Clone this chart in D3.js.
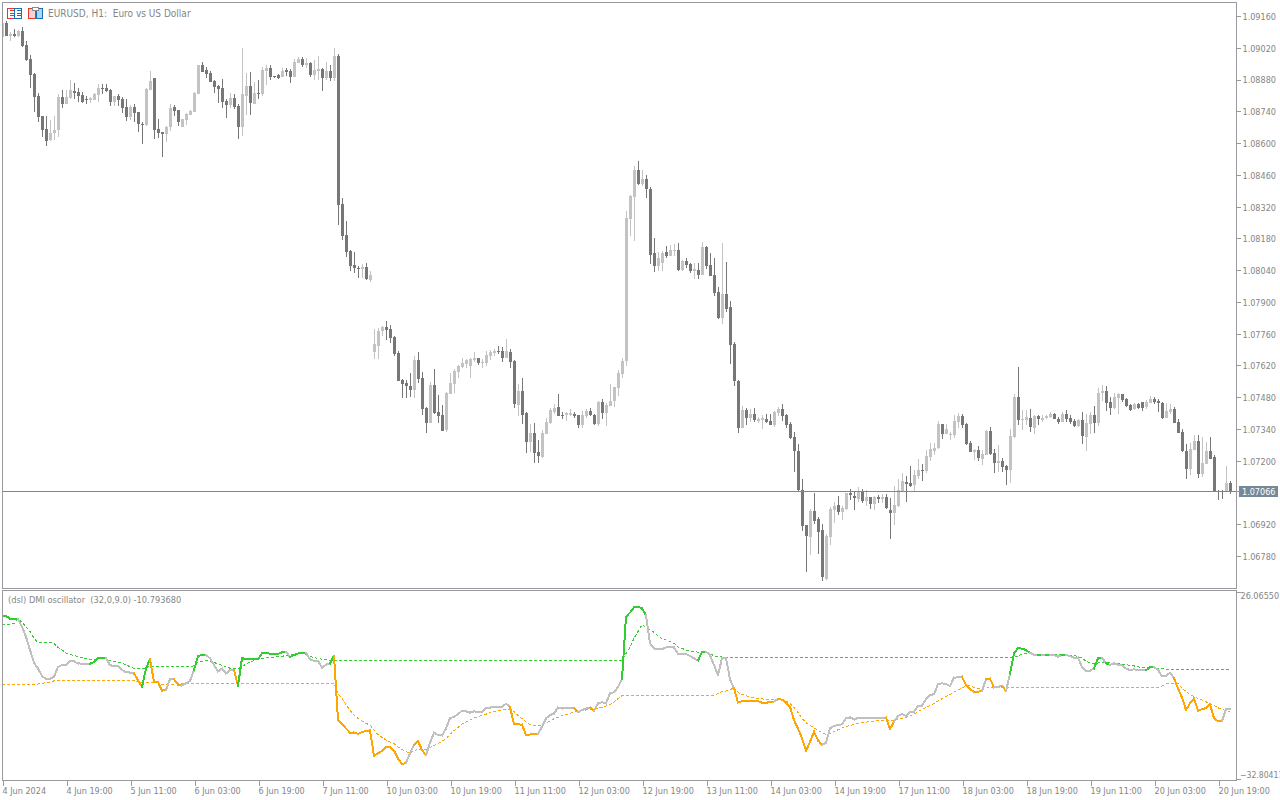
<!DOCTYPE html>
<html>
<head>
<meta charset="utf-8">
<title>EURUSD H1</title>
<script src="https://cdnjs.cloudflare.com/ajax/libs/d3/7.8.5/d3.min.js"></script>
<style>
  html, body { margin: 0; padding: 0; background: #fff; overflow: hidden; }
  svg { display: block; }
  text { font-family: "DejaVu Sans Condensed", "DejaVu Sans", sans-serif; font-stretch: condensed; font-size: 9px; fill: #858585; white-space: pre; }
  .axis path { display: none; }
  .axis line { stroke: #9a9a9a; shape-rendering: crispEdges; }
  .axis text { font-family: "DejaVu Sans Condensed", "DejaVu Sans", sans-serif; font-stretch: condensed; font-size: 9px; fill: #858585; }
</style>
</head>
<body>
<div id="viz"></div>
<script>
// every row holds 10 bars, H1 candles from 4 Jun 2024 to 20 Jun 2024
const opens = [
  1.09068,1.09130,1.09072,1.09081,1.09072,1.09094,1.09033,1.08971,1.08905,1.08808,
  1.08719,1.08662,1.08614,1.08644,1.08658,1.08803,1.08772,1.08799,1.08830,1.08825,
  1.08812,1.08794,1.08790,1.08790,1.08812,1.08843,1.08843,1.08834,1.08781,1.08808,
  1.08794,1.08759,1.08715,1.08759,1.08737,1.08684,1.08680,1.08834,1.08887,1.08662,
  1.08649,1.08640,1.08671,1.08759,1.08746,1.08671,1.08702,1.08724,1.08737,1.08816,
  1.08944,1.08922,1.08909,1.08874,1.08852,1.08843,1.08786,1.08768,1.08799,1.08764,
  1.08671,1.08808,1.08852,1.08772,1.08821,1.08816,1.08918,1.08931,1.08896,1.08900,
  1.08891,1.08922,1.08918,1.08891,1.08953,1.08971,1.08944,1.08953,1.08900,1.08918,
  1.08927,1.08887,1.08918,1.08887,1.08984,1.08331,1.08195,1.08124,1.08062,1.08049,
  1.08045,1.08053,1.07996,1.07679,1.07705,1.07771,1.07789,1.07780,1.07745,1.07674,
  1.07555,1.07542,1.07529,1.07511,1.07643,1.07564,1.07432,1.07366,1.07533,1.07414,
  1.07401,1.07335,1.07493,1.07538,1.07590,1.07612,1.07626,1.07617,1.07643,1.07652,
  1.07630,1.07630,1.07661,1.07674,1.07683,1.07683,1.07652,1.07679,1.07639,1.07445,
  1.07507,1.07410,1.07282,1.07322,1.07238,1.07216,1.07317,1.07366,1.07414,1.07436,
  1.07401,1.07401,1.07401,1.07405,1.07401,1.07357,1.07396,1.07419,1.07401,1.07361,
  1.07458,1.07410,1.07441,1.07463,1.07520,1.07582,1.07639,1.08265,1.08362,1.08481,
  1.08420,1.08442,1.08397,1.08115,1.08058,1.08071,1.08120,1.08102,1.08124,1.08129,
  1.08040,1.08080,1.08067,1.08036,1.08040,1.08018,1.08142,1.08062,1.08018,1.07943,
  1.07829,1.07934,1.07877,1.07714,1.07551,1.07343,1.07423,1.07388,1.07405,1.07374,
  1.07379,1.07383,1.07374,1.07357,1.07410,1.07427,1.07401,1.07361,1.07304,1.07242,
  1.07070,1.06916,1.06863,1.06978,1.06942,1.06894,1.06678,1.06863,1.06982,1.07004,
  1.06973,1.06986,1.07057,1.07044,1.07030,1.07061,1.07022,1.07039,1.07008,1.07039,
  1.07030,1.07039,1.06982,1.06969,1.07000,1.07066,1.07105,1.07101,1.07092,1.07132,
  1.07158,1.07154,1.07216,1.07242,1.07255,1.07361,1.07317,1.07313,1.07313,1.07370,
  1.07396,1.07361,1.07277,1.07238,1.07247,1.07207,1.07224,1.07330,1.07233,1.07189,
  1.07198,1.07176,1.07158,1.07304,1.07480,1.07379,1.07379,1.07388,1.07343,1.07396,
  1.07379,1.07388,1.07392,1.07405,1.07383,1.07370,1.07405,1.07388,1.07374,1.07352,
  1.07379,1.07304,1.07361,1.07401,1.07366,1.07498,1.07507,1.07458,1.07432,1.07476,
  1.07493,1.07471,1.07445,1.07427,1.07449,1.07458,1.07436,1.07454,1.07471,1.07463,
  1.07454,1.07388,1.07414,1.07427,1.07370,1.07326,1.07242,1.07163,1.07247,1.07286,
  1.07141,1.07185,1.07242,1.07216,1.07066,1.07066,1.07066,1.07101
];
const highs = [
  1.09134,1.09138,1.09090,1.09103,1.09099,1.09112,1.09050,1.08988,1.08909,1.08821,
  1.08719,1.08719,1.08702,1.08719,1.08816,1.08834,1.08834,1.08878,1.08865,1.08843,
  1.08825,1.08808,1.08803,1.08821,1.08861,1.08861,1.08861,1.08839,1.08808,1.08816,
  1.08803,1.08794,1.08768,1.08772,1.08737,1.08693,1.08843,1.08918,1.08887,1.08706,
  1.08649,1.08675,1.08772,1.08768,1.08746,1.08706,1.08733,1.08746,1.08825,1.08944,
  1.08958,1.08936,1.08918,1.08878,1.08856,1.08883,1.08794,1.08821,1.08816,1.08772,
  1.09019,1.08909,1.08913,1.08869,1.08878,1.08936,1.08944,1.08944,1.08896,1.08905,
  1.08931,1.08931,1.08927,1.08971,1.08980,1.08980,1.08975,1.08958,1.08966,1.08984,
  1.08931,1.08958,1.08944,1.09019,1.08993,1.08358,1.08256,1.08129,1.08120,1.08058,
  1.08067,1.08071,1.08036,1.07780,1.07785,1.07793,1.07815,1.07798,1.07749,1.07683,
  1.07560,1.07555,1.07586,1.07661,1.07679,1.07590,1.07436,1.07546,1.07604,1.07489,
  1.07445,1.07502,1.07586,1.07604,1.07621,1.07652,1.07648,1.07652,1.07679,1.07652,
  1.07648,1.07683,1.07688,1.07692,1.07705,1.07701,1.07736,1.07692,1.07643,1.07538,
  1.07564,1.07414,1.07361,1.07366,1.07291,1.07335,1.07388,1.07432,1.07449,1.07493,
  1.07414,1.07414,1.07427,1.07414,1.07401,1.07419,1.07427,1.07432,1.07405,1.07463,
  1.07471,1.07454,1.07538,1.07524,1.07599,1.07652,1.08301,1.08371,1.08499,1.08521,
  1.08481,1.08459,1.08406,1.08181,1.08120,1.08124,1.08146,1.08151,1.08155,1.08159,
  1.08085,1.08093,1.08071,1.08071,1.08071,1.08164,1.08146,1.08115,1.08093,1.07965,
  1.08159,1.08076,1.07904,1.07723,1.07555,1.07441,1.07432,1.07427,1.07432,1.07392,
  1.07401,1.07405,1.07405,1.07419,1.07436,1.07449,1.07405,1.07370,1.07326,1.07273,
  1.07119,1.06916,1.06986,1.07057,1.06951,1.06920,1.06876,1.06995,1.07017,1.07044,
  1.07000,1.07057,1.07075,1.07066,1.07083,1.07075,1.07070,1.07039,1.07044,1.07048,
  1.07053,1.07053,1.07035,1.07088,1.07119,1.07145,1.07132,1.07176,1.07158,1.07207,
  1.07185,1.07247,1.07277,1.07277,1.07374,1.07361,1.07361,1.07326,1.07401,1.07410,
  1.07405,1.07366,1.07286,1.07251,1.07264,1.07247,1.07335,1.07348,1.07251,1.07269,
  1.07211,1.07180,1.07339,1.07493,1.07612,1.07423,1.07423,1.07427,1.07401,1.07401,
  1.07401,1.07401,1.07414,1.07410,1.07392,1.07414,1.07423,1.07401,1.07383,1.07383,
  1.07414,1.07405,1.07414,1.07441,1.07520,1.07533,1.07529,1.07480,1.07498,1.07498,
  1.07493,1.07476,1.07449,1.07454,1.07454,1.07458,1.07467,1.07485,1.07480,1.07471,
  1.07458,1.07454,1.07449,1.07436,1.07383,1.07339,1.07273,1.07277,1.07313,1.07313,
  1.07304,1.07282,1.07304,1.07224,1.07070,1.07070,1.07176,1.07110
];
const lows = [
  1.09068,1.09072,1.09050,1.09068,1.09068,1.09024,1.08962,1.08843,1.08737,1.08693,
  1.08627,1.08587,1.08609,1.08614,1.08627,1.08755,1.08772,1.08794,1.08794,1.08781,
  1.08777,1.08772,1.08777,1.08790,1.08781,1.08816,1.08825,1.08764,1.08764,1.08764,
  1.08733,1.08697,1.08702,1.08693,1.08649,1.08596,1.08675,1.08834,1.08618,1.08622,
  1.08539,1.08605,1.08653,1.08719,1.08675,1.08671,1.08680,1.08724,1.08737,1.08816,
  1.08913,1.08887,1.08869,1.08821,1.08777,1.08755,1.08711,1.08755,1.08750,1.08618,
  1.08631,1.08724,1.08724,1.08772,1.08794,1.08808,1.08856,1.08878,1.08887,1.08883,
  1.08891,1.08896,1.08865,1.08891,1.08953,1.08936,1.08931,1.08891,1.08878,1.08878,
  1.08830,1.08878,1.08874,1.08874,1.08239,1.08173,1.08098,1.08036,1.08027,1.08005,
  1.08005,1.07996,1.07987,1.07648,1.07648,1.07749,1.07732,1.07718,1.07661,1.07551,
  1.07476,1.07476,1.07480,1.07476,1.07542,1.07401,1.07322,1.07366,1.07405,1.07366,
  1.07330,1.07326,1.07493,1.07498,1.07564,1.07608,1.07608,1.07564,1.07635,1.07621,
  1.07608,1.07617,1.07643,1.07661,1.07670,1.07635,1.07652,1.07608,1.07432,1.07396,
  1.07361,1.07233,1.07238,1.07189,1.07189,1.07211,1.07317,1.07361,1.07405,1.07396,
  1.07383,1.07374,1.07396,1.07388,1.07343,1.07343,1.07388,1.07396,1.07357,1.07352,
  1.07383,1.07352,1.07441,1.07436,1.07485,1.07564,1.07617,1.08190,1.08168,1.08415,
  1.08411,1.08358,1.08067,1.08031,1.08036,1.08036,1.08093,1.08102,1.08102,1.08036,
  1.08036,1.08049,1.08027,1.08001,1.08001,1.08018,1.08045,1.08014,1.07926,1.07824,
  1.07802,1.07855,1.07626,1.07529,1.07322,1.07343,1.07357,1.07370,1.07370,1.07366,
  1.07339,1.07366,1.07357,1.07348,1.07396,1.07374,1.07343,1.07295,1.07149,1.07061,
  1.06889,1.06708,1.06783,1.06920,1.06788,1.06669,1.06673,1.06827,1.06925,1.06960,
  1.06938,1.06982,1.07026,1.06982,1.07017,1.07013,1.07000,1.06986,1.06982,1.07013,
  1.07013,1.06986,1.06854,1.06916,1.06995,1.07066,1.07017,1.07083,1.07066,1.07119,
  1.07110,1.07145,1.07198,1.07224,1.07251,1.07295,1.07317,1.07291,1.07299,1.07343,
  1.07343,1.07269,1.07238,1.07202,1.07198,1.07180,1.07224,1.07224,1.07145,1.07149,
  1.07149,1.07092,1.07101,1.07299,1.07357,1.07335,1.07357,1.07326,1.07317,1.07357,
  1.07370,1.07383,1.07388,1.07383,1.07361,1.07370,1.07370,1.07361,1.07348,1.07348,
  1.07273,1.07242,1.07317,1.07322,1.07352,1.07463,1.07419,1.07401,1.07427,1.07405,
  1.07458,1.07436,1.07419,1.07423,1.07427,1.07419,1.07427,1.07454,1.07449,1.07414,
  1.07383,1.07388,1.07405,1.07366,1.07322,1.07238,1.07119,1.07136,1.07247,1.07123,
  1.07127,1.07185,1.07207,1.07061,1.07026,1.07030,1.07066,1.07053
];
const closes = [
  1.09130,1.09072,1.09081,1.09072,1.09094,1.09028,1.08966,1.08900,1.08803,1.08715,
  1.08658,1.08609,1.08644,1.08658,1.08803,1.08772,1.08803,1.08834,1.08821,1.08808,
  1.08781,1.08790,1.08799,1.08816,1.08843,1.08839,1.08830,1.08781,1.08808,1.08790,
  1.08755,1.08715,1.08759,1.08733,1.08684,1.08680,1.08839,1.08874,1.08658,1.08644,
  1.08640,1.08671,1.08755,1.08742,1.08693,1.08706,1.08728,1.08742,1.08821,1.08944,
  1.08913,1.08905,1.08869,1.08847,1.08839,1.08781,1.08768,1.08799,1.08759,1.08671,
  1.08816,1.08852,1.08777,1.08821,1.08816,1.08922,1.08931,1.08891,1.08891,1.08887,
  1.08918,1.08913,1.08891,1.08958,1.08971,1.08944,1.08953,1.08900,1.08922,1.08927,
  1.08887,1.08918,1.08887,1.08984,1.08327,1.08190,1.08120,1.08058,1.08049,1.08045,
  1.08053,1.08001,1.08018,1.07714,1.07771,1.07789,1.07776,1.07740,1.07670,1.07551,
  1.07538,1.07529,1.07511,1.07643,1.07560,1.07427,1.07366,1.07533,1.07410,1.07396,
  1.07330,1.07498,1.07542,1.07595,1.07617,1.07630,1.07643,1.07648,1.07652,1.07630,
  1.07635,1.07665,1.07679,1.07683,1.07679,1.07652,1.07683,1.07635,1.07449,1.07507,
  1.07401,1.07282,1.07322,1.07233,1.07220,1.07322,1.07370,1.07423,1.07432,1.07396,
  1.07396,1.07410,1.07410,1.07396,1.07357,1.07401,1.07419,1.07401,1.07361,1.07458,
  1.07410,1.07445,1.07463,1.07524,1.07586,1.07639,1.08270,1.08367,1.08481,1.08420,
  1.08442,1.08397,1.08106,1.08058,1.08093,1.08115,1.08102,1.08129,1.08129,1.08040,
  1.08080,1.08062,1.08036,1.08045,1.08018,1.08142,1.08058,1.08014,1.07939,1.07829,
  1.07934,1.07868,1.07710,1.07551,1.07343,1.07423,1.07388,1.07405,1.07379,1.07383,
  1.07388,1.07370,1.07357,1.07414,1.07427,1.07396,1.07357,1.07299,1.07242,1.07070,
  1.06911,1.06867,1.06978,1.06933,1.06885,1.06687,1.06867,1.06986,1.07000,1.06973,
  1.06991,1.07057,1.07048,1.07035,1.07061,1.07022,1.07039,1.07008,1.07039,1.07030,
  1.07039,1.06991,1.06969,1.07004,1.07070,1.07110,1.07097,1.07088,1.07136,1.07158,
  1.07154,1.07220,1.07251,1.07255,1.07361,1.07317,1.07339,1.07317,1.07374,1.07396,
  1.07357,1.07273,1.07238,1.07247,1.07211,1.07229,1.07330,1.07229,1.07189,1.07198,
  1.07172,1.07158,1.07308,1.07480,1.07379,1.07383,1.07392,1.07348,1.07396,1.07383,
  1.07388,1.07396,1.07405,1.07383,1.07370,1.07405,1.07383,1.07370,1.07352,1.07379,
  1.07308,1.07366,1.07401,1.07366,1.07498,1.07507,1.07454,1.07432,1.07480,1.07493,
  1.07467,1.07441,1.07423,1.07449,1.07432,1.07432,1.07458,1.07471,1.07458,1.07454,
  1.07388,1.07419,1.07427,1.07366,1.07322,1.07242,1.07163,1.07251,1.07286,1.07141,
  1.07189,1.07242,1.07207,1.07066,1.07061,1.07061,1.07101,1.07066
];

// dsl DMI oscillator, main line per bar
const oscillator = [
  18.6,18.5,17.7,17.6,17.6,15.1,12.0,7.8,3.8,2.0,
  -0.4,-1.3,-1.3,-0.6,2.5,3.1,3.2,4.3,4.2,3.6,
  3.5,3.5,3.5,4.0,5.3,5.4,5.3,3.0,2.8,2.8,
  1.5,0.8,0.7,0.4,-1.7,-3.8,2.0,4.9,-2.2,-2.3,
  -5.0,-4.8,-1.4,-1.4,-3.1,-3.3,-2.7,-1.9,1.5,5.9,
  6.2,6.3,5.2,3.1,1.0,2.0,0.4,1.5,1.6,-3.5,
  5.2,5.0,5.0,5.0,5.0,6.7,6.9,6.6,6.6,6.6,
  7.1,7.3,5.6,6.2,6.7,6.9,6.9,4.9,4.4,4.4,
  2.2,3.2,3.6,6.0,-14.3,-15.5,-16.9,-18.2,-18.2,-18.6,
  -18.0,-17.7,-17.5,-25.5,-24.7,-24.0,-22.7,-22.7,-23.9,-26.3,
  -28.1,-27.7,-24.7,-22.1,-20.8,-23.7,-25.3,-21.4,-18.2,-19.0,
  -19.1,-16.9,-13.7,-13.2,-12.4,-11.3,-11.5,-11.9,-11.5,-11.7,
  -11.7,-10.3,-10.3,-10.1,-10.1,-10.1,-9.1,-10.1,-15.6,-15.6,
  -15.7,-19.0,-18.8,-18.6,-18.6,-16.4,-13.7,-12.7,-12.2,-10.3,
  -10.6,-10.6,-10.5,-10.4,-11.8,-11.1,-10.6,-10.3,-11.4,-9.0,
  -8.6,-9.0,-5.8,-5.5,-3.8,-1.4,18.3,19.6,21.2,21.4,
  20.9,18.8,9.9,8.3,8.1,8.1,8.6,8.8,8.6,6.6,
  6.6,6.6,5.9,5.2,4.5,7.2,7.3,6.2,3.1,-0.1,
  5.2,5.2,-1.4,-4.3,-8.7,-8.3,-8.2,-8.2,-8.2,-8.3,
  -8.8,-8.8,-8.6,-8.4,-7.7,-7.8,-8.8,-10.1,-14.3,-16.9,
  -20.0,-23.9,-21.1,-17.9,-20.6,-22.1,-21.3,-16.9,-16.1,-15.8,
  -15.6,-13.7,-13.4,-14.0,-13.6,-13.5,-13.5,-13.5,-13.5,-13.5,
  -13.5,-13.5,-17.1,-14.8,-13.0,-12.3,-13.0,-11.6,-11.6,-9.8,
  -9.7,-7.7,-6.4,-6.1,-2.9,-2.7,-2.9,-3.5,-0.9,-0.8,
  -0.6,-3.2,-4.6,-5.3,-5.3,-5.1,-1.4,-1.2,-4.0,-3.8,
  -3.5,-5.1,0.4,6.7,8.5,8.2,7.8,6.9,6.3,6.2,
  6.2,6.2,6.2,6.2,5.7,6.2,6.2,5.9,5.4,5.4,
  2.5,1.3,1.3,2.0,5.2,5.4,3.6,3.1,3.6,3.2,
  2.9,2.0,1.5,1.7,1.5,1.5,1.4,2.4,2.4,1.5,
  -0.4,-0.4,0.7,-1.1,-4.3,-7.1,-11.1,-9.0,-7.4,-11.3,
  -10.8,-10.5,-9.2,-13.7,-14.6,-14.6,-10.8,-10.79
];
const upLevel = [
  15.7,15.8,15.9,16.2,17.6,16.6,15.1,13.6,11.5,10.2,
  10.2,10.2,10.2,9.9,8.6,7.8,6.9,6.4,6.0,5.8,
  5.4,5.1,4.8,4.7,5.2,5.3,5.2,4.4,4.1,4.0,
  3.6,3.2,2.5,2.0,1.9,1.8,2.2,2.7,2.7,2.7,
  2.7,2.7,2.7,2.7,2.7,2.7,2.7,2.7,2.8,3.9,
  4.3,4.5,4.4,3.9,3.4,3.0,2.4,2.1,1.9,1.9,
  2.5,3.4,4.0,4.4,4.9,5.1,5.3,5.5,5.6,5.7,
  5.8,6.1,6.2,6.5,6.8,6.9,6.4,5.8,5.4,5.2,
  4.9,4.7,4.5,4.4,4.4,4.4,4.4,4.4,4.4,4.4,
  4.4,4.4,4.4,4.4,4.4,4.4,4.4,4.4,4.4,4.4,
  4.4,4.4,4.4,4.4,4.4,4.4,4.4,4.4,4.4,4.4,
  4.4,4.4,4.4,4.4,4.4,4.4,4.4,4.4,4.4,4.4,
  4.4,4.4,4.4,4.4,4.4,4.4,4.4,4.4,4.4,4.4,
  4.4,4.4,4.4,4.4,4.4,4.4,4.4,4.4,4.4,4.4,
  4.4,4.4,4.4,4.4,4.4,4.4,4.4,4.4,4.4,4.4,
  4.4,4.4,4.4,4.4,4.4,4.4,6.7,8.6,11.5,13.6,
  15.7,14.9,14.1,13.4,12.3,11.4,11.0,10.5,9.9,8.8,
  8.3,7.8,7.5,7.3,7.1,7.2,7.2,6.6,6.0,5.7,
  5.6,5.5,5.5,5.5,5.5,5.5,5.5,5.5,5.5,5.5,
  5.5,5.5,5.5,5.5,5.5,5.5,5.5,5.5,5.5,5.5,
  5.5,5.5,5.5,5.5,5.5,5.5,5.5,5.5,5.5,5.5,
  5.5,5.5,5.5,5.5,5.5,5.5,5.5,5.5,5.5,5.5,
  5.5,5.5,5.5,5.5,5.5,5.5,5.5,5.5,5.5,5.5,
  5.5,5.5,5.5,5.5,5.5,5.5,5.5,5.5,5.5,5.5,
  5.5,5.5,5.5,5.5,5.5,5.5,5.5,5.5,5.5,5.5,
  5.5,5.5,5.3,5.5,5.9,6.5,6.7,6.6,6.4,6.4,
  6.4,6.4,6.4,6.4,6.4,6.4,6.4,6.2,6.0,5.8,
  5.2,4.3,3.7,3.6,3.7,3.8,3.8,3.7,3.6,3.5,
  3.4,3.2,3.0,2.8,2.5,2.3,2.1,2.2,2.3,2.1,
  1.9,1.8,1.7,1.7,1.7,1.7,1.7,1.7,1.7,1.7,
  1.7,1.7,1.7,1.7,1.7,1.7,1.7,1.7
];
const downLevel = [
  -3.1,-3.1,-3.1,-3.1,-3.1,-3.1,-3.1,-3.1,-3.1,-2.9,
  -2.7,-2.5,-2.3,-1.9,-1.8,-1.8,-1.8,-1.8,-1.8,-1.8,
  -1.8,-1.8,-1.8,-1.8,-1.8,-1.8,-1.8,-1.8,-1.8,-1.8,
  -1.8,-1.8,-1.8,-1.9,-2.1,-2.4,-2.4,-2.3,-2.3,-2.5,
  -3.1,-3.2,-3.1,-2.9,-2.8,-2.7,-2.7,-2.7,-2.7,-2.7,
  -2.7,-2.7,-2.7,-2.7,-2.7,-2.7,-2.7,-2.7,-2.7,-2.7,
  -2.7,-2.7,-2.7,-2.7,-2.7,-2.7,-2.7,-2.7,-2.7,-2.7,
  -2.7,-2.7,-2.7,-2.7,-2.7,-2.7,-2.7,-2.7,-2.7,-2.7,
  -2.7,-2.7,-2.7,-2.7,-5.9,-7.4,-9.5,-11.1,-12.7,-13.7,
  -14.6,-15.3,-15.8,-17.4,-18.8,-19.7,-20.5,-21.1,-21.7,-22.7,
  -23.5,-24.2,-24.7,-23.9,-23.5,-23.7,-23.5,-22.9,-22.2,-21.6,
  -20.9,-20.2,-18.7,-17.6,-16.6,-15.5,-14.9,-14.3,-13.6,-13.2,
  -12.8,-12.4,-11.9,-11.6,-11.3,-11.0,-10.9,-11.0,-11.5,-12.8,
  -13.8,-14.9,-15.7,-16.1,-16.0,-15.8,-15.1,-14.6,-13.8,-13.4,
  -12.9,-12.6,-12.2,-11.7,-11.5,-11.3,-11.1,-10.9,-10.8,-10.5,
  -10.2,-9.8,-9.4,-8.5,-7.5,-6.6,-6.5,-6.5,-6.5,-6.5,
  -6.5,-6.5,-6.5,-6.5,-6.5,-6.5,-6.5,-6.5,-6.5,-6.5,
  -6.5,-6.5,-6.5,-6.5,-6.5,-6.5,-6.5,-6.5,-6.5,-5.9,
  -5.2,-5.1,-4.8,-4.0,-5.5,-6.2,-6.6,-7.0,-7.2,-7.4,
  -7.6,-7.7,-7.8,-7.9,-7.9,-8.1,-8.3,-9.0,-10.3,-11.9,
  -13.7,-15.1,-15.9,-16.8,-17.4,-18.3,-18.7,-18.5,-17.9,-17.3,
  -16.7,-16.2,-16.0,-15.6,-15.4,-15.1,-14.9,-14.7,-14.6,-14.5,
  -14.4,-14.3,-14.5,-14.5,-14.0,-13.7,-13.4,-12.9,-12.4,-11.6,
  -10.9,-10.3,-9.7,-9.0,-8.3,-7.5,-6.9,-6.2,-5.4,-4.8,
  -4.2,-3.5,-3.5,-4.0,-4.3,-4.6,-4.3,-3.9,-3.9,-4.0,
  -4.0,-4.0,-4.0,-4.0,-4.0,-4.0,-4.0,-4.0,-4.0,-4.0,
  -4.0,-4.0,-4.0,-4.0,-4.0,-4.0,-4.0,-4.0,-4.0,-4.0,
  -4.0,-4.0,-4.0,-4.0,-4.0,-4.0,-4.0,-4.0,-4.0,-4.0,
  -4.0,-4.0,-4.0,-4.0,-4.0,-4.0,-4.0,-4.0,-4.0,-4.0,
  -3.5,-2.9,-2.7,-2.7,-2.8,-4.1,-5.3,-6.2,-6.9,-7.4,
  -7.9,-8.5,-9.0,-9.6,-10.4,-10.9,-11.3,-11.7
];
// colour buffer of the main line: 0 neutral, 1 up, 2 down
const lineState = [
  1,1,1,1,1,0,0,0,0,0,
  0,0,0,0,0,0,0,0,0,0,
  0,0,0,1,1,1,1,0,0,0,
  0,0,0,0,2,2,1,1,2,2,
  2,2,0,0,2,2,0,0,0,1,
  1,1,0,0,0,0,0,0,0,2,
  1,1,1,1,1,1,1,1,1,1,
  1,1,0,1,1,1,1,0,0,0,
  0,0,0,1,2,2,2,2,2,2,
  2,2,2,2,2,2,2,2,2,2,
  2,2,0,0,2,2,2,0,0,0,
  0,0,0,0,0,0,0,0,0,0,
  0,0,0,0,0,0,0,0,2,2,
  2,2,2,2,2,0,0,0,0,0,
  0,0,0,0,2,0,0,0,2,0,
  0,0,0,0,0,0,1,1,1,1,
  1,1,0,0,0,0,0,0,0,0,
  0,0,0,0,0,1,1,0,0,0,
  0,0,0,0,2,2,2,2,2,2,
  2,2,2,2,0,2,2,2,2,2,
  2,2,2,2,2,2,0,0,0,0,
  0,0,0,0,0,0,0,0,0,0,
  0,0,2,2,0,0,0,0,0,0,
  0,0,0,0,0,0,0,0,0,0,
  0,2,2,2,2,2,0,2,2,0,
  0,2,0,1,1,1,1,1,0,0,
  1,0,1,0,0,0,1,0,0,0,
  0,0,0,0,1,1,0,1,0,0,
  0,0,0,0,0,0,0,1,1,0,
  0,0,0,0,2,2,2,2,2,2,
  2,2,2,2,2,2,0,0
];

const priceTicks = [1.0916, 1.0902, 1.0888, 1.0874, 1.086, 1.0846, 1.0832, 1.0818, 1.0804, 1.079,
  1.0776, 1.0762, 1.0748, 1.0734, 1.072, 1.0692, 1.0678];
const lastPrice = 1.07066;
const oscTop = 26.0655;
const oscBottom = -32.80411;
const timeTicks = d3.range(0, 320, 16);
const timeLabels = ["4 Jun 2024", "4 Jun 19:00", "5 Jun 11:00", "6 Jun 03:00", "6 Jun 19:00", "7 Jun 11:00",
  "10 Jun 03:00", "10 Jun 19:00", "11 Jun 11:00", "12 Jun 03:00", "12 Jun 19:00", "13 Jun 11:00",
  "14 Jun 03:00", "14 Jun 19:00", "17 Jun 11:00", "18 Jun 03:00", "18 Jun 19:00", "19 Jun 11:00",
  "20 Jun 03:00", "20 Jun 19:00"];

const title = "EURUSD, H1:  Euro vs US Dollar";
const oscTitle = "(dsl) DMI oscillator  (32,0,9.0) -10.793680";

const dimensions = { width: 1280, height: 800, left: 2, right: 1236, mainTop: 2, mainBottom: 588, oscTop: 590, oscBottom: 780 };

const frameColor = "#9a9a9e";
const darkCandle = "#777777";
const lightCandle = "#c3c3c3";
const stateColors = ["#c0c0c0", "#32cd32", "#ffa500"];

const svg = d3.select("#viz").append("svg")
    .attr("width", dimensions.width)
    .attr("height", dimensions.height);

// SCALES
const n = closes.length;
const x = d3.scaleLinear().domain([0, 307]).range([2, 1230]);
const yPrice = d3.scaleLinear().domain([1.0916, 1.0678]).range([16, 556]);
const yOsc = d3.scaleLinear().domain([oscTop, oscBottom]).range([592, 779]);

const defs = svg.append("defs");
defs.append("clipPath").attr("id", "clipMain").append("rect")
    .attr("x", dimensions.left + 1).attr("y", dimensions.mainTop + 1)
    .attr("width", dimensions.right - dimensions.left - 1)
    .attr("height", dimensions.mainBottom - dimensions.mainTop - 1);
defs.append("clipPath").attr("id", "clipOsc").append("rect")
    .attr("x", dimensions.left + 1).attr("y", dimensions.oscTop + 1)
    .attr("width", dimensions.right - dimensions.left - 1)
    .attr("height", dimensions.oscBottom - dimensions.oscTop - 1);

// CANDLES
const candles = svg.append("g").attr("clip-path", "url(#clipMain)").attr("shape-rendering", "crispEdges");
const candleColor = i => closes[i] >= opens[i] ? lightCandle : darkCandle;

candles.selectAll(".wick").data(d3.range(n)).join("rect")
    .attr("class", "wick")
    .attr("x", i => x(i))
    .attr("width", 1)
    .attr("y", i => Math.round(yPrice(highs[i])))
    .attr("height", i => Math.max(1, Math.round(yPrice(lows[i])) - Math.round(yPrice(highs[i]))))
    .attr("fill", candleColor);

candles.selectAll(".body").data(d3.range(n)).join("rect")
    .attr("class", "body")
    .attr("x", i => x(i) - 1)
    .attr("width", 3)
    .attr("y", i => Math.round(yPrice(Math.max(opens[i], closes[i]))))
    .attr("height", i => Math.max(1, Math.round(yPrice(Math.min(opens[i], closes[i]))) - Math.round(yPrice(Math.max(opens[i], closes[i])))))
    .attr("fill", candleColor);

// last price line
svg.append("rect")
    .attr("x", dimensions.left).attr("y", Math.round(yPrice(lastPrice)))
    .attr("width", dimensions.right - dimensions.left).attr("height", 1)
    .attr("fill", "#778899");

// OSCILLATOR
const osc = svg.append("g").attr("clip-path", "url(#clipOsc)").attr("shape-rendering", "crispEdges");
const oscLine = d3.line().x(i => x(i));

osc.append("path")
    .attr("d", oscLine.y(i => yOsc(upLevel[i]))(d3.range(n)))
    .attr("fill", "none").attr("stroke", stateColors[1]).attr("stroke-width", 1).attr("stroke-dasharray", "3,2");
osc.append("path")
    .attr("d", oscLine.y(i => yOsc(downLevel[i]))(d3.range(n)))
    .attr("fill", "none").attr("stroke", stateColors[2]).attr("stroke-width", 1).attr("stroke-dasharray", "3,2");

// main line is cut per bar because every bar has its own colour
const mainLine = d3.line().x(i => x(i)).y(i => yOsc(oscillator[i]));
osc.selectAll(".main").data(d3.range(1, n)).join("path")
    .attr("class", "main")
    .attr("d", i => mainLine([i - 1, i]))
    .attr("fill", "none")
    .attr("stroke", i => stateColors[lineState[i]])
    .attr("stroke-width", 2)
    .attr("stroke-linecap", "square");

// FRAMES
[[dimensions.mainTop, dimensions.mainBottom], [dimensions.oscTop, dimensions.oscBottom]].forEach(p => {
    svg.append("rect")
        .attr("x", dimensions.left + 0.5).attr("y", p[0] + 0.5)
        .attr("width", dimensions.right - dimensions.left).attr("height", p[1] - p[0])
        .attr("fill", "none").attr("stroke", frameColor).attr("shape-rendering", "crispEdges");
});

// AXES
const priceAxis = svg.append("g").attr("class", "axis")
    .attr("transform", `translate(${dimensions.right + 0.5},0)`)
    .call(d3.axisRight(yPrice).tickValues(priceTicks).tickSize(4).tickPadding(2).tickFormat(d3.format(".5f")));
priceAxis.selectAll("text").attr("dy", "0.38em");

const oscAxis = svg.append("g").attr("class", "axis")
    .attr("transform", `translate(${dimensions.right + 0.5},0)`)
    .call(d3.axisRight(yOsc).tickValues([oscTop, oscBottom]).tickSize(4).tickPadding(0).tickFormat(d3.format(".5f")));
// the two pane limits sit inside the pane, below the top tick and above the bottom one
oscAxis.selectAll("text").attr("dy", (d, i) => i === 0 ? "0.72em" : "-0.15em");
// the long negative limit only fits the window when it is a bit smaller
oscAxis.selectAll("text").filter((d, i) => i === 1).attr("x", 3.5).style("font-size", "8.6px");

const timeAxis = svg.append("g").attr("class", "axis")
    .attr("transform", `translate(0,${dimensions.oscBottom + 0.5})`)
    .call(d3.axisBottom(x).tickValues(timeTicks).tickSize(5).tickPadding(2).tickFormat((d, i) => timeLabels[i]));
timeAxis.selectAll("text").attr("text-anchor", "start");
timeAxis.selectAll(".tick line").attr("transform", "translate(0.5,0)");

// last price tag
svg.append("rect").attr("x", 1239).attr("y", 486).attr("width", 39).attr("height", 11)
    .attr("fill", "#778899").attr("shape-rendering", "crispEdges");
svg.append("rect").attr("x", dimensions.right).attr("y", Math.round(yPrice(lastPrice)))
    .attr("width", 4).attr("height", 1).attr("fill", frameColor);
svg.append("text").attr("x", 1242).attr("y", Math.round(yPrice(lastPrice)) + 3.5)
    .style("fill", "#fff").text(d3.format(".5f")(lastPrice));

// TITLES
svg.append("text").attr("x", 48).attr("y", 17).style("font-size", "10px").text(title);
svg.append("text").attr("x", 8).attr("y", 603).style("font-size", "9.2px").text(oscTitle);

// little chart icons next to the title
const icons = svg.append("g").attr("shape-rendering", "crispEdges").attr("fill", "none").attr("transform", "translate(0.5,0.5)");
icons.append("rect").attr("x", 7).attr("y", 8).attr("width", 7).attr("height", 10).attr("stroke", "#e8352c").attr("fill", "#fff");
icons.append("rect").attr("x", 14).attr("y", 8).attr("width", 7).attr("height", 10).attr("stroke", "#1b6fb5").attr("fill", "#fff");
[10, 13, 15].forEach(y => {
    icons.append("line").attr("x1", 9).attr("x2", 13).attr("y1", y).attr("y2", y).attr("stroke", "#e8352c");
    icons.append("line").attr("x1", 16).attr("x2", 20).attr("y1", y).attr("y2", y).attr("stroke", "#1b6fb5");
});
icons.append("rect").attr("x", 28).attr("y", 8).attr("width", 7).attr("height", 10).attr("stroke", "#e8352c").attr("fill", "#fbd3cd");
icons.append("rect").attr("x", 36).attr("y", 8).attr("width", 6).attr("height", 10).attr("stroke", "#1b6fb5").attr("fill", "#a9d6f0");
icons.append("rect").attr("x", 32).attr("y", 7).attr("width", 6).attr("height", 3).attr("stroke", "#8a8a8a").attr("fill", "#fff");
</script>
</body>
</html>
